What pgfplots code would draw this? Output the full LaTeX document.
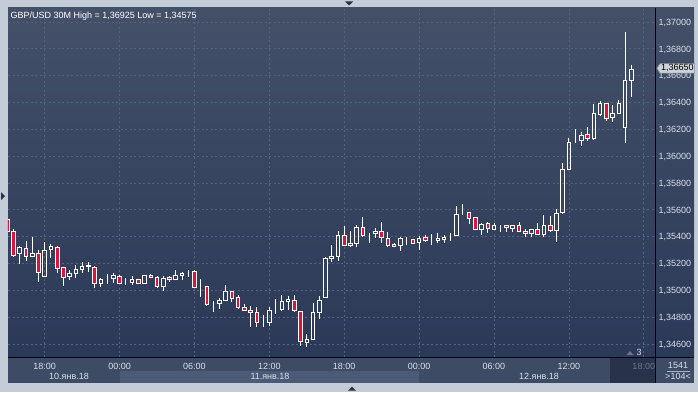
\documentclass[border=0pt]{standalone}
\usepackage{pgfplots}
\pgfplotsset{compat=1.18}
\usepackage{pgfplotstable}
\usetikzlibrary{shapes.symbols}
\usepackage{fontspec}
\setmainfont{Liberation Sans}
\definecolor{borderc}{RGB}{195,204,215}
\definecolor{bgtop}{RGB}{68,80,104}
\definecolor{bgbot}{RGB}{43,57,88}
\definecolor{gridc}{RGB}{84,98,125}
\definecolor{bandc}{RGB}{61,75,101}
\definecolor{bandlight}{RGB}{76,91,117}
\definecolor{banddark}{RGB}{40,51,75}
\definecolor{lbl}{RGB}{218,224,234}
\definecolor{dimtick}{RGB}{104,118,144}
\definecolor{candlered}{RGB}{222,18,58}
\definecolor{tagfill}{RGB}{205,210,216}
\definecolor{tagdraw}{RGB}{130,140,155}
\definecolor{arrowc}{RGB}{38,50,74}
\newcommand\chartfont{\fontsize{9}{10}\selectfont}

\pgfplotstableread{
k o h l c
-6 1.35529 1.35546 1.35427 1.35437
-5 1.35442 1.35457 1.35251 1.35263
-4 1.35273 1.35330 1.35196 1.35318
-3 1.35315 1.35368 1.35221 1.35254
-2 1.35254 1.35400 1.35254 1.35276
-1 1.35276 1.35298 1.35064 1.35131
0 1.35101 1.35360 1.35101 1.35298
1 1.35306 1.35343 1.35239 1.35325
2 1.35323 1.35330 1.35131 1.35164
3 1.35174 1.35174 1.35034 1.35097
4 1.35101 1.35149 1.35079 1.35129
5 1.35124 1.35189 1.35094 1.35159
6 1.35157 1.35211 1.35127 1.35181
7 1.35178 1.35209 1.35139 1.35185
8 1.35174 1.35181 1.35019 1.35049
9 1.35052 1.35090 1.35027 1.35082
10 1.35087 1.35124 1.35045 1.35087
11 1.35090 1.35131 1.35057 1.35109
12 1.35104 1.35112 1.35045 1.35052
13 1.35062 1.35094 1.35037 1.35062
14 1.35057 1.35107 1.35037 1.35082
15 1.35082 1.35082 1.35047 1.35052
16 1.35052 1.35116 1.35052 1.35112
17 1.35112 1.35122 1.35097 1.35097
18 1.35097 1.35107 1.35022 1.35027
19 1.35027 1.35107 1.34997 1.35090
20 1.35097 1.35109 1.35060 1.35082
21 1.35082 1.35151 1.35077 1.35112
22 1.35112 1.35139 1.35077 1.35129
23 1.35129 1.35151 1.35097 1.35129
24 1.35137 1.35149 1.35021 1.35021
25 1.35027 1.35082 1.34952 1.35027
26 1.35030 1.35030 1.34883 1.34891
27 1.34903 1.34920 1.34836 1.34903
28 1.34900 1.34945 1.34861 1.34926
29 1.34926 1.35040 1.34918 1.34995
30 1.34995 1.34995 1.34915 1.34940
31 1.34945 1.34965 1.34861 1.34870
32 1.34873 1.34898 1.34851 1.34851
33 1.34851 1.34883 1.34723 1.34838
34 1.34836 1.34879 1.34730 1.34760
35 1.34768 1.34814 1.34727 1.34768
36 1.34760 1.34873 1.34734 1.34851
37 1.34857 1.34934 1.34822 1.34857
38 1.34857 1.34965 1.34850 1.34918
39 1.34919 1.34960 1.34850 1.34935
40 1.34926 1.34965 1.34841 1.34850
41 1.34844 1.34844 1.34585 1.34617
42 1.34611 1.34673 1.34575 1.34636
43 1.34636 1.34905 1.34636 1.34836
44 1.34836 1.34958 1.34786 1.34926
45 1.34948 1.35248 1.34948 1.35239
46 1.35237 1.35338 1.35211 1.35256
47 1.35251 1.35440 1.35221 1.35410
48 1.35410 1.35479 1.35330 1.35336
49 1.35336 1.35441 1.35324 1.35351
50 1.35349 1.35487 1.35324 1.35470
51 1.35470 1.35544 1.35395 1.35410
52 1.35424 1.35426 1.35351 1.35424
53 1.35424 1.35466 1.35391 1.35441
54 1.35438 1.35507 1.35350 1.35394
55 1.35386 1.35432 1.35330 1.35334
56 1.35343 1.35350 1.35327 1.35327
57 1.35336 1.35394 1.35291 1.35388
58 1.35386 1.35395 1.35336 1.35386
59 1.35380 1.35380 1.35343 1.35350
60 1.35358 1.35405 1.35298 1.35388
61 1.35395 1.35410 1.35362 1.35373
62 1.35375 1.35422 1.35336 1.35375
63 1.35373 1.35425 1.35355 1.35386
64 1.35377 1.35410 1.35355 1.35395
65 1.35401 1.35427 1.35364 1.35401
66 1.35409 1.35628 1.35409 1.35567
67 1.35580 1.35642 1.35563 1.35580
68 1.35582 1.35582 1.35497 1.35537
69 1.35544 1.35544 1.35447 1.35455
70 1.35455 1.35500 1.35410 1.35492
71 1.35500 1.35507 1.35425 1.35462
72 1.35455 1.35500 1.35455 1.35485
73 1.35485 1.35485 1.35437 1.35485
74 1.35485 1.35485 1.35437 1.35465
75 1.35462 1.35485 1.35437 1.35485
76 1.35485 1.35507 1.35440 1.35440
77 1.35440 1.35455 1.35395 1.35425
78 1.35425 1.35455 1.35395 1.35455
79 1.35455 1.35500 1.35410 1.35418
80 1.35418 1.35561 1.35395 1.35485
81 1.35485 1.35554 1.35432 1.35447
82 1.35447 1.35604 1.35362 1.35574
83 1.35579 1.35947 1.35569 1.35902
84 1.35902 1.36133 1.35897 1.36103
85 1.36113 1.36200 1.36096 1.36113
86 1.36115 1.36178 1.36078 1.36154
87 1.36163 1.36216 1.36115 1.36132
88 1.36129 1.36389 1.36123 1.36319
89 1.36309 1.36411 1.36299 1.36394
90 1.36394 1.36394 1.36264 1.36279
91 1.36290 1.36379 1.36255 1.36319
92 1.36319 1.36416 1.36319 1.36394
93 1.36212 1.36925 1.36100 1.36565
94 1.36565 1.36677 1.36443 1.36650
}\candles

\begin{document}
\begin{tikzpicture}[x=1pt,y=1pt]
\useasboundingbox (0,0) rectangle (698,392);
\fill[borderc] (0,0) rectangle (698,392);
\shade[top color=bgtop, bottom color=bgbot] (8,35) rectangle (694,384);
% bottom time band
\fill[bandc] (8,9) rectangle (694,35);
\fill[bandlight] (120,9) rectangle (419,21);
\fill[banddark] (610,9) rectangle (655,35);

\begin{axis}[
  at={(8pt,35pt)}, anchor=south west,
  width=647pt, height=349pt, scale only axis,
  xmin=-5.881, xmax=97.804, ymin=1.345029, ymax=1.371044,
  axis line style={draw=none},
  major tick length=0pt,
  xtick={0,12,24,36,48,60,72,84,96},
  xticklabels={18:00,00:00,06:00,12:00,18:00,00:00,06:00,12:00,{\textcolor{dimtick}{18:00}}},
  ytick={1.346,1.348,1.350,1.352,1.354,1.356,1.358,1.360,1.362,1.364,1.366,1.368,1.370},
  scaled y ticks=false,
  yticklabel pos=right,
  xmajorgrids, ymajorgrids,
  major grid style={gridc, line width=0.7pt, dash pattern=on 2pt off 2.5pt},
  tick label style={font=\chartfont, text=lbl, inner sep=0pt},
  xticklabel style={anchor=base, yshift=-12.3pt},
  yticklabel style={anchor=base west, xshift=3.3pt, yshift=-3.2pt,
    /pgf/number format/fixed, /pgf/number format/fixed zerofill,
    /pgf/number format/precision=5, /pgf/number format/use comma,
    /pgf/number format/1000 sep={}, /pgf/number format/assume math mode=true},
]
% upper wicks
\addplot[draw=none, mark=none,
  error bars/.cd, y dir=plus, y explicit, error mark=none,
  error bar style={draw=white, line width=0.9pt}]
  table[x=k, y expr={max(\thisrow{o},\thisrow{c})},
        y error plus expr={\thisrow{h}-max(\thisrow{o},\thisrow{c})}] {\candles};
% lower wicks
\addplot[draw=none, mark=none,
  error bars/.cd, y dir=minus, y explicit, error mark=none,
  error bar style={draw=white, line width=0.9pt}]
  table[x=k, y expr={min(\thisrow{o},\thisrow{c})},
        y error minus expr={min(\thisrow{o},\thisrow{c})-\thisrow{l}}] {\candles};
\coordinate (tagpt) at (axis cs:97.804,1.3665);
\end{axis}

% candle bodies (same geometry, prices shifted by 1.345 so the stacked bars start near the axis)
\begin{axis}[
  at={(8pt,35pt)}, anchor=south west,
  width=647pt, height=349pt, scale only axis,
  xmin=-5.881, xmax=97.804, ymin=0.000029, ymax=0.026044,
  hide axis, ybar stacked, bar width=3.6pt,
]
\addplot[draw=none, fill=none]
  table[x=k, y expr={min(\thisrow{o},\thisrow{c})-1.345}] {\candles};
\addplot[fill=candlered, draw=white, line width=0.9pt]
  table[x=k, y expr={max(\thisrow{o}-\thisrow{c},0)}] {\candles};
\addplot[fill=none, draw=white, line width=0.9pt]
  table[x=k, y expr={max(\thisrow{c}-\thisrow{o},0)}] {\candles};
\end{axis}

% frame lines
\draw[black, line width=1pt] (8,35) -- (694,35);
\draw[black, line width=1pt] (655,9) -- (655,384);

% title
\node[anchor=base west, font=\chartfont, text=white, inner sep=0pt] at (10.3,373.7)
  {GBP/USD 30M High = 1,36925 Low = 1,34575};

% current price tag
\node[signal, signal to=west, signal pointer angle=110, fill=tagfill, draw=tagdraw,
  line width=0.5pt, inner xsep=1pt, inner ysep=0pt, minimum height=9.5pt,
  font=\chartfont, text=black, anchor=west] at ([xshift=1.5pt,yshift=0.6pt]tagpt) {1,36650};

% date labels
\node[anchor=base, font=\chartfont, text=lbl, inner sep=0pt] at (69,12.6) {10.янв.18};
\node[anchor=base, font=\chartfont, text=lbl, inner sep=0pt] at (270,12.6) {11.янв.18};
\node[anchor=base, font=\chartfont, text=lbl, inner sep=0pt] at (539,12.6) {12.янв.18};

% bottom-right box
\node[anchor=base, font=\chartfont, text=lbl, inner sep=0pt] at (678,23.3) {1541};
\draw[lbl!70!bandc, line width=0.6pt] (667,20.5) -- (690,20.5);
\node[anchor=base, font=\chartfont, text=lbl, inner sep=0pt] at (678,12.6) {>104<};

% "3" marker
\fill[dimtick] (626.5,37) -- (633.5,37) -- (630,41) -- cycle;
\node[anchor=base, font=\chartfont, text=lbl, inner sep=0pt] at (639,37) {3};

% small arrows on the frame
\fill[arrowc] (345,390.5) -- (353,390.5) -- (349,386.5) -- cycle;
\fill[arrowc] (348,1.5) -- (356,1.5) -- (352,5.5) -- cycle;
\fill[arrowc] (1,200) -- (1,192) -- (5,196) -- cycle;
\end{tikzpicture}
\end{document}
